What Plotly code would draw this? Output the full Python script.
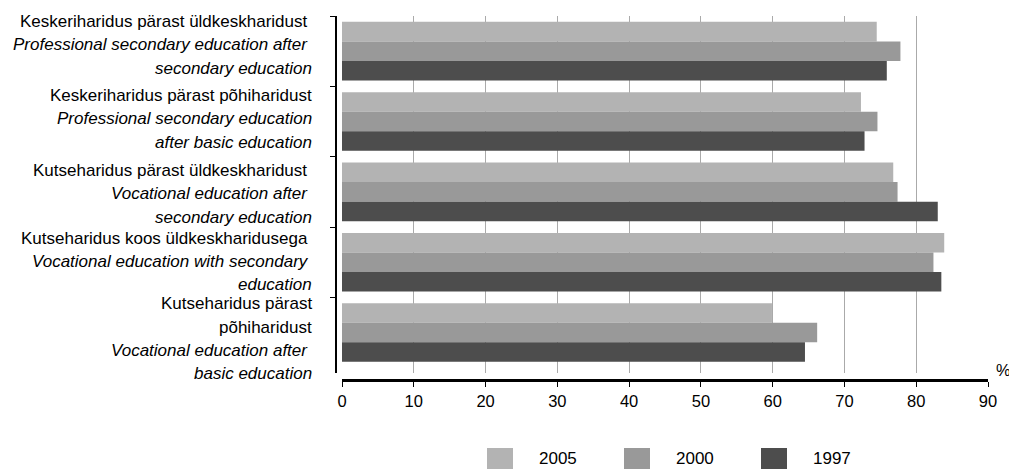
import plotly.graph_objects as go

# ---- data ----
categories = [
    "Keskeriharidus pärast üldkeskharidust",
    "Keskeriharidus pärast põhiharidust",
    "Kutseharidus pärast üldkeskharidust",
    "Kutseharidus koos üldkeskharidusega",
    "Kutseharidus pärast põhiharidust",
]
label_lines = [
    [("Keskeriharidus pärast üldkeskharidust ", False),
     ("Professional secondary education after ", True),
     ("secondary education", True)],
    [("Keskeriharidus pärast põhiharidust", False),
     ("Professional secondary education", True),
     ("after basic education", True)],
    [("Kutseharidus pärast üldkeskharidust ", False),
     ("Vocational education after ", True),
     ("secondary education", True)],
    [("Kutseharidus koos üldkeskharidusega ", False),
     ("Vocational education with secondary ", True),
     ("education", True)],
    [("Kutseharidus pärast", False),
     ("põhiharidust", False),
     ("Vocational education after ", True),
     ("basic education", True)],
]
years = ["2005", "2000", "1997"]
values_2005 = [74.5, 72.3, 76.8, 83.9, 59.9]
values_2000 = [77.8, 74.6, 77.4, 82.4, 66.2]
values_1997 = [75.9, 72.8, 83.0, 83.5, 64.5]
series_values = [values_2005, values_2000, values_1997]
colors = ["#b3b3b3", "#999999", "#4d4d4d"]
x_ticks = list(range(0, 100, 10))

# ---- layout geometry (pixels, page offset of 8px body margin compensated) ----
OFF = 8
W, H = 1017 - OFF, 469 - OFF
ML = 336 - OFF
MT = 16 - OFF
MB = H - (380 - OFF)
MR = W - (988 - OFF)
PW = W - ML - MR
PH = H - MT - MB

def px_x(p):
    return (p - OFF - ML) / PW

def px_y(p):
    return (H - MB - (p - OFF)) / PH

FONT = "Liberation Sans, Arial, sans-serif"

fig = go.Figure()
for yr, vals, col in zip(years, series_values, colors):
    fig.add_trace(go.Bar(
        y=categories, x=vals, name=yr, orientation="h",
        marker=dict(color=col, line=dict(width=0)),
        showlegend=False,
    ))

annotations = []
line_gap = 23.3
label_block_shift = [6.4, 2.8, -2.0, 0.6, -6.3]  # px, upward positive
for cat, lines, bshift in zip(categories, label_lines, label_block_shift):
    n = len(lines)
    for i, (txt, ital) in enumerate(lines):
        shift = ((n - 1) / 2 - i) * line_gap + bshift
        annotations.append(dict(
            xref="paper", yref="y", x=0, y=cat,
            xanchor="right", yanchor="middle",
            xshift=-22, yshift=shift,
            text=f"<i>{txt}</i>" if ital else txt,
            showarrow=False,
            font=dict(size=17, color="#000", family=FONT),
        ))

# percent sign
annotations.append(dict(
    xref="paper", yref="paper", x=1, y=px_y(370), xanchor="left", yanchor="middle",
    xshift=6, text="%", showarrow=False,
    font=dict(size=16.5, color="#000", family=FONT),
))

# manual legend
shapes = []
leg_x0 = 487
leg_step = 137
for i, (yr, col) in enumerate(zip(years, colors)):
    x0 = leg_x0 + i * leg_step
    shapes.append(dict(
        type="rect", xref="paper", yref="paper",
        x0=px_x(x0), x1=px_x(x0 + 26), y0=px_y(470), y1=px_y(448),
        fillcolor=col, line=dict(width=0),
    ))
    annotations.append(dict(
        xref="paper", yref="paper", x=px_x(x0 + 50), y=px_y(458.5),
        xanchor="left", yanchor="middle", text=yr, showarrow=False,
        font=dict(size=17, color="#000", family=FONT),
    ))

fig.update_layout(
    width=W, height=H,
    margin=dict(l=ML, r=MR, t=MT, b=MB, autoexpand=False),
    paper_bgcolor="white", plot_bgcolor="white",
    barmode="group", bargap=0.167, bargroupgap=0,
    font=dict(family=FONT, size=16.5, color="#000"),
    annotations=annotations, shapes=shapes,
    xaxis=dict(
        domain=[6 / PW, 1], range=[0, 90], tickvals=x_ticks,
        showgrid=True, gridcolor="#aaaaaa", gridwidth=1,
        zeroline=False, showline=True, linecolor="#000", linewidth=2.5,
        ticks="outside", ticklen=5, tickcolor="#000", tickwidth=1,
        anchor="free", position=0,
        tickfont=dict(size=16.5, family=FONT, color="#000"),
    ),
    yaxis=dict(
        domain=[7.3 / PH, 1], type="category", autorange="reversed",
        showgrid=False, zeroline=False, showline=True, linecolor="#000",
        linewidth=1.5, ticks="outside", tickson="boundaries", ticklen=5,
        tickcolor="#000", showticklabels=False,
        anchor="free", position=0,
    ),
)

fig.write_html("out.html")
